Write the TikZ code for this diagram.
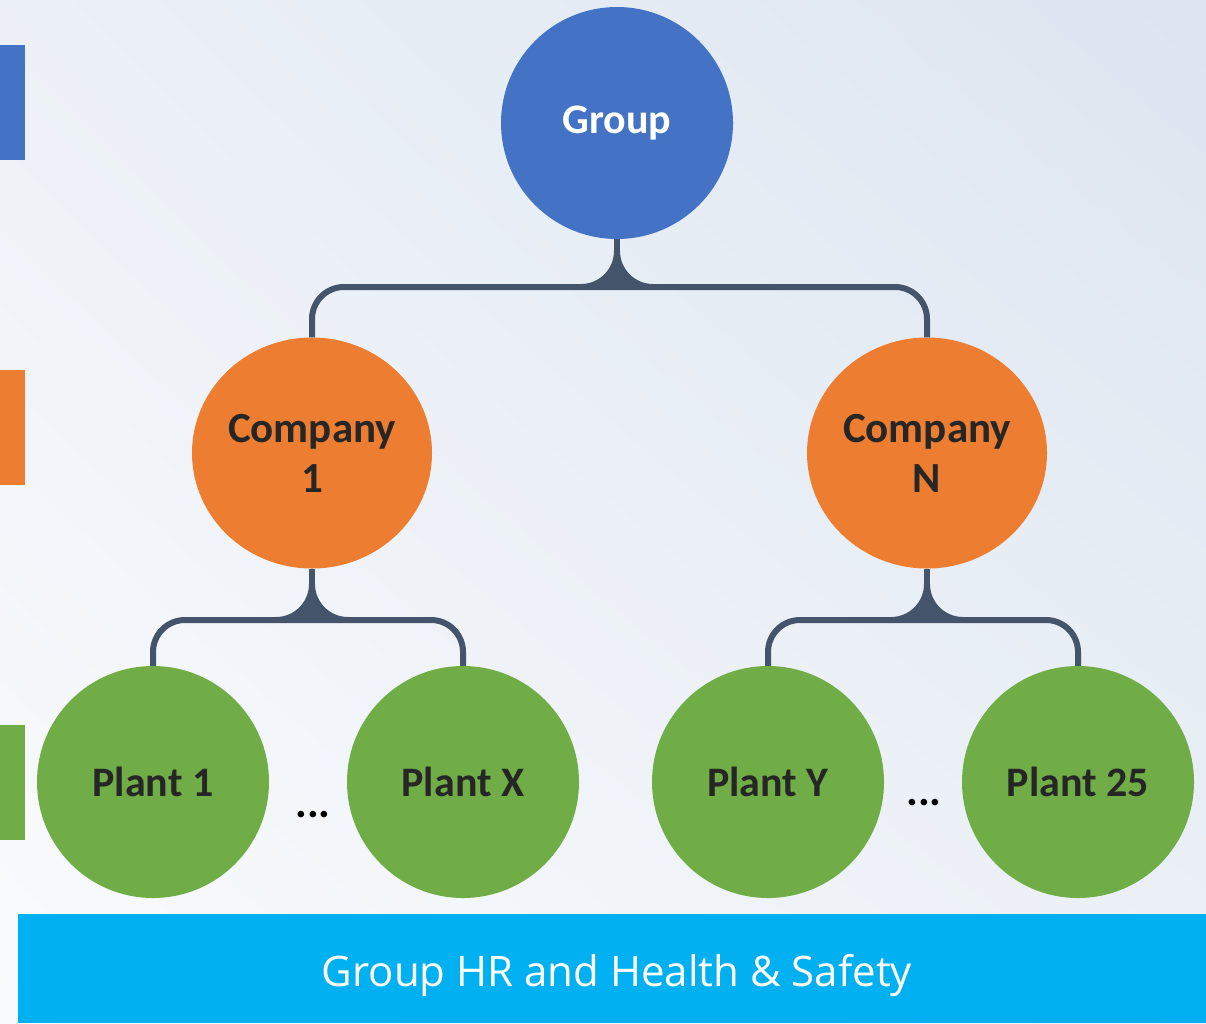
\documentclass[tikz,border=0pt]{standalone}
\usepackage{fontspec}
\setmainfont{Carlito}
\newfontfamily\barfont{Open Sans}
\usetikzlibrary{shapes.geometric,shadings}
\definecolor{grpblue}{HTML}{4472C4}
\definecolor{comporange}{HTML}{ED7D31}
\definecolor{plantgreen}{HTML}{70AD47}
\definecolor{barcyan}{HTML}{00B0F0}
\definecolor{connslate}{HTML}{44546A}
\definecolor{darktext}{HTML}{262626}
\definecolor{bglight}{HTML}{FAFBFD}
\definecolor{bgdark}{HTML}{DCE5F0}
\newcommand\myflare[3]{% x, y of line centre, radius
  \fill[connslate] ({#1-3},{#2-3-#3}) .. controls ({#1-3},{#2-3-0.448*#3}) and ({#1-3-0.448*#3},{#2-3}) .. ({#1-3-#3},{#2-3})
    -- ({#1+3+#3},{#2-3}) .. controls ({#1+3+0.448*#3},{#2-3}) and ({#1+3},{#2-3-0.448*#3}) .. ({#1+3},{#2-3-#3}) -- cycle;}
\begin{document}
\begin{tikzpicture}[x=1pt,y=-1pt,
  grp/.style={circle,fill=grpblue,minimum size=232pt,inner sep=0pt,text=white,font=\bfseries\fontsize{42}{50}\selectfont},
  comp/.style={ellipse,fill=comporange,minimum width=240pt,minimum height=231pt,inner sep=0pt,text=darktext,align=center,font=\bfseries\fontsize{43}{50}\selectfont},
  plant/.style={circle,fill=plantgreen,minimum size=232pt,inner sep=0pt,text=darktext,font=\bfseries\fontsize{42}{48}\selectfont},
  conn/.style={draw=connslate,line width=6pt,rounded corners=32pt},
  dots/.style={text=black,font=\bfseries\fontsize{44}{48}\selectfont,inner sep=0pt}]
\useasboundingbox (0,0) rectangle (1206,1023);
\shade[lower left=bglight,upper right=bgdark,lower right=bgdark!45!bglight,upper left=bgdark!45!bglight] (0,1023) rectangle (1206,0);
% side bars
\fill[grpblue] (0,45) rectangle (25,160);
\fill[comporange] (0,370) rectangle (25,485);
\fill[plantgreen] (0,725) rectangle (25,840);
% nodes
\node[grp] (group) at (617,123) {Group};
\node[comp] (c1) at (312,453) {Company\\1};
\node[comp] (cn) at (927,453) {Company\\N};
\node[plant] (p1) at (153,782) {Plant 1};
\node[plant] (px) at (463,782) {Plant X};
\node[plant] (py) at (768,782) {Plant Y};
\node[plant] (p25) at (1078,782) {Plant 25};
\node[dots] (d1) at (313,815) {...};
\node[dots] (d2) at (924,803) {...};
% junctions
\coordinate (j0) at (617,287);
\coordinate (j1) at (312,620);
\coordinate (j2) at (927,620);
% connectors
\draw[conn] (c1.north) |- (j0) -| (cn.north);
\draw[conn,rounded corners=0pt] (group.south) -- (j0);
\myflare{617}{287}{33}
\draw[conn] (p1.north) |- (j1) -| (px.north);
\draw[conn,rounded corners=0pt] (c1.south) -- (j1);
\myflare{312}{620}{33}
\draw[conn] (py.north) |- (j2) -| (p25.north);
\draw[conn,rounded corners=0pt] (cn.south) -- (j2);
\myflare{927}{620}{33}
% bottom bar
\node[fill=barcyan,minimum width=1188pt,minimum height=109pt,inner sep=0pt,anchor=north west] (bar) at (18,914) {};
\node[text=white,font=\barfont\fontsize{42}{48}\selectfont,inner sep=0pt] (bartext) at (617,975) {Group HR and Health \& Safety};
\end{tikzpicture}
\end{document}
